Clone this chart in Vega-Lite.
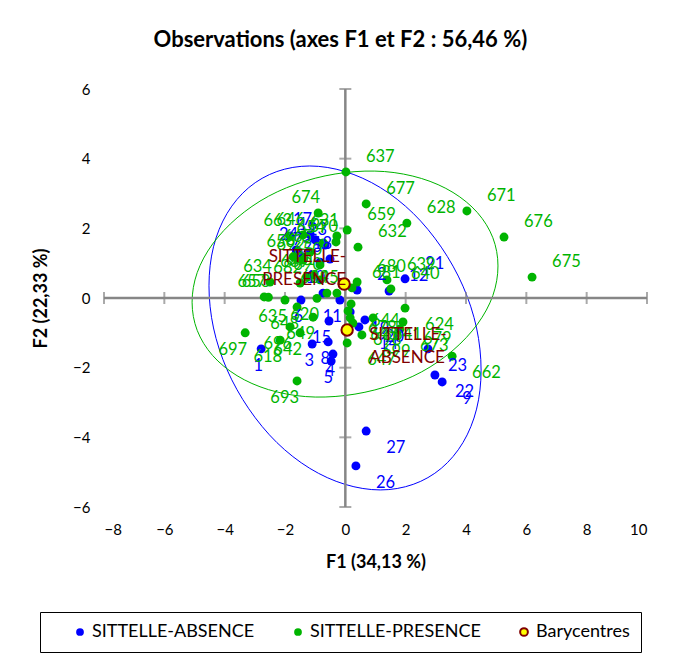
{
"$schema":"https://vega.github.io/schema/vega-lite/v6.json",
"width":543,"height":418,
"autosize":{"type":"none"},
"padding":{"left":104,"top":89,"right":33,"bottom":157},
"background":"white",
"config":{"view":{"stroke":null},"font":"Lato",
 "axis":{"labelFont":"Lato","titleFont":"Lato","labelColor":"black","titleColor":"black","grid":false,"domain":false,"ticks":false,"labelFontSize":15,"titleFontSize":18,"titleFontWeight":"bold"}},
"title":{"text":"Observations (axes F1 et F2 : 56,46 %)","font":"Lato","fontSize":22,"fontWeight":"bold","color":"black","anchor":"middle","frame":"bounds","offset":30},
"datasets":{
 "ell":[
  {"g":"A","i":0,"x":4.50,"y":-2.07},{"g":"A","i":1,"x":4.35,"y":-0.86},{"g":"A","i":2,"x":3.90,"y":0.34},{"g":"A","i":3,"x":3.18,"y":1.46},{"g":"A","i":4,"x":2.25,"y":2.43},{"g":"A","i":5,"x":1.16,"y":3.17},{"g":"A","i":6,"x":-0.01,"y":3.63},{"g":"A","i":7,"x":-1.18,"y":3.79},{"g":"A","i":8,"x":-2.27,"y":3.63},{"g":"A","i":9,"x":-3.20,"y":3.17},{"g":"A","i":10,"x":-3.92,"y":2.43},{"g":"A","i":11,"x":-4.37,"y":1.47},{"g":"A","i":12,"x":-4.52,"y":0.35},{"g":"A","i":13,"x":-4.37,"y":-0.86},{"g":"A","i":14,"x":-3.92,"y":-2.06},{"g":"A","i":15,"x":-3.20,"y":-3.18},{"g":"A","i":16,"x":-2.27,"y":-4.15},{"g":"A","i":17,"x":-1.18,"y":-4.89},{"g":"A","i":18,"x":-0.01,"y":-5.35},{"g":"A","i":19,"x":1.16,"y":-5.51},{"g":"A","i":20,"x":2.25,"y":-5.35},{"g":"A","i":21,"x":3.18,"y":-4.89},{"g":"A","i":22,"x":3.90,"y":-4.15},{"g":"A","i":23,"x":4.35,"y":-3.19},
  {"g":"P","i":0,"x":5.06,"y":0.92},{"g":"P","i":1,"x":4.89,"y":1.73},{"g":"P","i":2,"x":4.38,"y":2.45},{"g":"P","i":3,"x":3.57,"y":3.03},{"g":"P","i":4,"x":2.53,"y":3.43},{"g":"P","i":5,"x":1.30,"y":3.63},{"g":"P","i":6,"x":-0.01,"y":3.60},{"g":"P","i":7,"x":-1.32,"y":3.36},{"g":"P","i":8,"x":-2.55,"y":2.92},{"g":"P","i":9,"x":-3.59,"y":2.30},{"g":"P","i":10,"x":-4.40,"y":1.55},{"g":"P","i":11,"x":-4.91,"y":0.73},{"g":"P","i":12,"x":-5.08,"y":-0.12},{"g":"P","i":13,"x":-4.91,"y":-0.93},{"g":"P","i":14,"x":-4.40,"y":-1.65},{"g":"P","i":15,"x":-3.59,"y":-2.23},{"g":"P","i":16,"x":-2.55,"y":-2.63},{"g":"P","i":17,"x":-1.32,"y":-2.83},{"g":"P","i":18,"x":-0.01,"y":-2.80},{"g":"P","i":19,"x":1.30,"y":-2.56},{"g":"P","i":20,"x":2.53,"y":-2.12},{"g":"P","i":21,"x":3.57,"y":-1.50},{"g":"P","i":22,"x":4.38,"y":-0.75},{"g":"P","i":23,"x":4.89,"y":0.07}
 ],
 "xt":[{"x":-8},{"x":-6},{"x":-4},{"x":-2},{"x":2},{"x":4},{"x":6},{"x":8},{"x":10}],
 "yt":[{"y":-6},{"y":-4},{"y":-2},{"y":2},{"y":4},{"y":6}],
 "pts":[
  {"g":"SITTELLE-ABSENCE","n":"1","x":-2.79,"y":-1.46},
  {"g":"SITTELLE-ABSENCE","n":"2","x":0.39,"y":0.23},
  {"g":"SITTELLE-ABSENCE","n":"3","x":-1.10,"y":-1.32},
  {"g":"SITTELLE-ABSENCE","n":"4","x":-0.41,"y":-1.61},
  {"g":"SITTELLE-ABSENCE","n":"5","x":-0.47,"y":-1.81},
  {"g":"SITTELLE-ABSENCE","n":"6","x":-1.47,"y":-0.06},
  {"g":"SITTELLE-ABSENCE","n":"7","x":-1.50,"y":1.23},
  {"g":"SITTELLE-ABSENCE","n":"8","x":-0.57,"y":-1.26},
  {"g":"SITTELLE-ABSENCE","n":"9","x":3.21,"y":-2.41},
  {"g":"SITTELLE-ABSENCE","n":"10","x":-0.74,"y":0.14},
  {"g":"SITTELLE-ABSENCE","n":"11","x":-0.18,"y":-0.06},
  {"g":"SITTELLE-ABSENCE","n":"12","x":1.45,"y":0.20},
  {"g":"SITTELLE-ABSENCE","n":"13","x":-0.67,"y":1.52},
  {"g":"SITTELLE-ABSENCE","n":"14","x":0.45,"y":-0.83},
  {"g":"SITTELLE-ABSENCE","n":"15","x":-0.54,"y":-0.66},
  {"g":"SITTELLE-ABSENCE","n":"16","x":-1.00,"y":1.67},
  {"g":"SITTELLE-ABSENCE","n":"17","x":-1.17,"y":1.81},
  {"g":"SITTELLE-ABSENCE","n":"18","x":-0.51,"y":1.12},
  {"g":"SITTELLE-ABSENCE","n":"19","x":0.16,"y":-0.40},
  {"g":"SITTELLE-ABSENCE","n":"20","x":0.65,"y":-0.63},
  {"g":"SITTELLE-ABSENCE","n":"21","x":1.98,"y":0.55},
  {"g":"SITTELLE-ABSENCE","n":"22","x":2.97,"y":-2.21},
  {"g":"SITTELLE-ABSENCE","n":"23","x":2.74,"y":-1.46},
  {"g":"SITTELLE-ABSENCE","n":"24","x":-1.63,"y":1.38},
  {"g":"SITTELLE-ABSENCE","n":"25","x":-0.84,"y":1.03},
  {"g":"SITTELLE-ABSENCE","n":"26","x":0.35,"y":-4.82},
  {"g":"SITTELLE-ABSENCE","n":"27","x":0.69,"y":-3.82},
  {"g":"SITTELLE-PRESENCE","n":"637","x":0.02,"y":3.62},
  {"g":"SITTELLE-PRESENCE","n":"677","x":0.69,"y":2.70},
  {"g":"SITTELLE-PRESENCE","n":"659","x":0.06,"y":1.95},
  {"g":"SITTELLE-PRESENCE","n":"628","x":2.04,"y":2.15},
  {"g":"SITTELLE-PRESENCE","n":"632","x":0.42,"y":1.46},
  {"g":"SITTELLE-PRESENCE","n":"671","x":4.03,"y":2.50},
  {"g":"SITTELLE-PRESENCE","n":"676","x":5.26,"y":1.75},
  {"g":"SITTELLE-PRESENCE","n":"675","x":6.19,"y":0.60},
  {"g":"SITTELLE-PRESENCE","n":"674","x":-0.90,"y":2.44},
  {"g":"SITTELLE-PRESENCE","n":"663","x":-1.83,"y":1.78},
  {"g":"SITTELLE-PRESENCE","n":"631","x":-0.28,"y":1.78},
  {"g":"SITTELLE-PRESENCE","n":"670","x":-0.31,"y":1.61},
  {"g":"SITTELLE-PRESENCE","n":"656","x":-1.73,"y":1.18},
  {"g":"SITTELLE-PRESENCE","n":"665","x":-1.17,"y":1.32},
  {"g":"SITTELLE-PRESENCE","n":"634","x":-2.50,"y":0.46},
  {"g":"SITTELLE-PRESENCE","n":"657","x":-2.69,"y":0.03},
  {"g":"SITTELLE-PRESENCE","n":"653","x":-2.55,"y":0.02},
  {"g":"SITTELLE-PRESENCE","n":"682","x":-1.50,"y":0.43},
  {"g":"SITTELLE-PRESENCE","n":"689","x":-1.27,"y":0.60},
  {"g":"SITTELLE-PRESENCE","n":"681","x":0.22,"y":0.29},
  {"g":"SITTELLE-PRESENCE","n":"680","x":0.39,"y":0.46},
  {"g":"SITTELLE-PRESENCE","n":"639","x":1.38,"y":0.52},
  {"g":"SITTELLE-PRESENCE","n":"640","x":1.51,"y":0.26},
  {"g":"SITTELLE-PRESENCE","n":"635","x":-2.00,"y":-0.06},
  {"g":"SITTELLE-PRESENCE","n":"620","x":-0.94,"y":-0.01},
  {"g":"SITTELLE-PRESENCE","n":"648","x":-1.60,"y":-0.26},
  {"g":"SITTELLE-PRESENCE","n":"649","x":-1.07,"y":-0.55},
  {"g":"SITTELLE-PRESENCE","n":"642","x":-1.50,"y":-1.00},
  {"g":"SITTELLE-PRESENCE","n":"697","x":-3.32,"y":-1.00},
  {"g":"SITTELLE-PRESENCE","n":"618","x":-2.16,"y":-1.21},
  {"g":"SITTELLE-PRESENCE","n":"693","x":-1.60,"y":-2.38},
  {"g":"SITTELLE-PRESENCE","n":"662","x":3.54,"y":-1.67},
  {"g":"SITTELLE-PRESENCE","n":"624","x":1.98,"y":-0.29},
  {"g":"SITTELLE-PRESENCE","n":"679","x":1.91,"y":-0.69},
  {"g":"SITTELLE-PRESENCE","n":"673","x":1.81,"y":-0.89},
  {"g":"SITTELLE-PRESENCE","n":"644","x":0.19,"y":-0.17},
  {"g":"SITTELLE-PRESENCE","n":"678","x":0.09,"y":-0.37},
  {"g":"SITTELLE-PRESENCE","n":"645","x":0.16,"y":-0.57},
  {"g":"SITTELLE-PRESENCE","n":"647","x":0.06,"y":-1.29},
  {"g":"SITTELLE-PRESENCE","n":"690","x":-0.84,"y":0.52},
  {"g":"SITTELLE-PRESENCE","n":"691","x":-1.07,"y":0.66},
  {"g":"SITTELLE-PRESENCE","n":"692","x":-1.40,"y":1.09},
  {"g":"SITTELLE-PRESENCE","n":"694","x":-0.61,"y":0.14},
  {"g":"SITTELLE-PRESENCE","n":"695","x":-0.28,"y":0.14},
  {"g":"SITTELLE-PRESENCE","n":"696","x":-1.83,"y":-0.83},
  {"g":"SITTELLE-PRESENCE","n":"698","x":0.25,"y":-0.72},
  {"g":"SITTELLE-PRESENCE","n":"699","x":0.55,"y":-1.06},
  {"g":"SITTELLE-PRESENCE","n":"641","x":0.92,"y":-0.57},
  {"g":"SITTELLE-PRESENCE","n":"646","x":-1.40,"y":1.81},
  {"g":"SITTELLE-PRESENCE","n":"650","x":-0.84,"y":0.95},
  {"g":"SITTELLE-PRESENCE","n":"654","x":-0.73,"y":1.58}
 ],
 "bary":[
  {"g":"Barycentres","n":"SITTELLE-\nPRESENCE","x":-0.04,"y":0.40},
  {"g":"Barycentres","n":"SITTELLE-\nABSENCE","x":0.06,"y":-0.92}
 ]
},
"layer":[
 {"data":{"name":"ell"},"transform":[{"filter":"datum.g === 'A'"}],
  "mark":{"type":"line","interpolate":"cardinal-closed","stroke":"#0000ff","strokeWidth":1},
  "encoding":{
   "x":{"field":"x","type":"quantitative","scale":{"domain":[-8,10],"nice":false,"zero":false},
        "axis":{"values":[-8,-6,-4,-2,0,2,4,6,8,10],"title":"F1 (34,13 %)","labelPadding":15,"titlePadding":16}},
   "y":{"field":"y","type":"quantitative","scale":{"domain":[-6,6],"nice":false,"zero":false},
        "axis":{"values":[-6,-4,-2,0,2,4,6],"title":"F2 (22,33 %)","labelPadding":14,"titlePadding":22}},
   "order":{"field":"i","type":"quantitative"}}},
 {"data":{"name":"ell"},"transform":[{"filter":"datum.g === 'P'"}],
  "mark":{"type":"line","interpolate":"cardinal-closed","stroke":"#00b400","strokeWidth":1},
  "encoding":{"x":{"field":"x","type":"quantitative"},"y":{"field":"y","type":"quantitative"},"order":{"field":"i","type":"quantitative"}}},
 {"data":{"values":[{}]},"mark":{"type":"rule","color":"#868686","strokeWidth":2.5},"encoding":{"x":{"datum":0,"type":"quantitative"}}},
 {"data":{"values":[{}]},"mark":{"type":"rule","color":"#868686","strokeWidth":2.5},"encoding":{"y":{"datum":0,"type":"quantitative"}}},
 {"data":{"name":"xt"},"mark":{"type":"tick","orient":"vertical","size":12,"thickness":2,"color":"#868686"},
  "encoding":{"x":{"field":"x","type":"quantitative"},"y":{"datum":0,"type":"quantitative"}}},
 {"data":{"name":"yt"},"mark":{"type":"tick","orient":"horizontal","size":12,"thickness":2,"color":"#868686"},
  "encoding":{"y":{"field":"y","type":"quantitative"},"x":{"datum":0,"type":"quantitative"}}},
 {"data":{"name":"pts"},
  "mark":{"type":"circle","size":80,"opacity":1,"strokeWidth":2},
  "encoding":{"x":{"field":"x","type":"quantitative"},"y":{"field":"y","type":"quantitative"},
   "fill":{"field":"g","type":"nominal",
     "scale":{"domain":["SITTELLE-ABSENCE","SITTELLE-PRESENCE","Barycentres"],"range":["#0000ff","#00b400","#ffff00"]},
     "legend":{"orient":"none","legendX":-64,"legendY":523,"direction":"horizontal","title":null,
       "labelFont":"Lato","labelFontSize":18,"labelColor":"black","labelLimit":400,"symbolType":"circle","symbolSize":60,"symbolStrokeWidth":2,"padding":11,
       "symbolOffset":20,"labelOffset":3,"columnPadding":14,"strokeColor":"black"}},
   "stroke":{"field":"g","type":"nominal",
     "scale":{"domain":["SITTELLE-ABSENCE","SITTELLE-PRESENCE","Barycentres"],"range":["transparent","transparent","#800000"]}}}},
 {"data":{"name":"pts"},"transform":[{"filter":"datum.g === 'SITTELLE-ABSENCE'"}],
  "mark":{"type":"text","font":"Lato","fontSize":16.5,"baseline":"middle","fill":"#0000ff",
    "align":{"expr":"datum.x < 0 ? 'right' : 'left'"},"dx":{"expr":"datum.x < 0 ? 2 : 20"},"dy":{"expr":"datum.y < 0 ? 17 : -15"}},
  "encoding":{"x":{"field":"x","type":"quantitative"},"y":{"field":"y","type":"quantitative"},"text":{"field":"n"}}},
 {"data":{"name":"pts"},"transform":[{"filter":"datum.g === 'SITTELLE-PRESENCE'"}],
  "mark":{"type":"text","font":"Lato","fontSize":16.5,"baseline":"middle","fill":"#00b400",
    "align":{"expr":"datum.x < 0 ? 'right' : 'left'"},"dx":{"expr":"datum.x < 0 ? 2 : 20"},"dy":{"expr":"datum.y < 0 ? 17 : -15"}},
  "encoding":{"x":{"field":"x","type":"quantitative"},"y":{"field":"y","type":"quantitative"},"text":{"field":"n"}}},
 {"data":{"name":"bary"},
  "mark":{"type":"circle","size":130,"strokeWidth":2,"opacity":1},
  "encoding":{"x":{"field":"x","type":"quantitative"},"y":{"field":"y","type":"quantitative"},
   "fill":{"field":"g","type":"nominal"},"stroke":{"field":"g","type":"nominal"}}},
 {"data":{"name":"bary"},
  "mark":{"type":"text","font":"Lato","fontSize":17,"baseline":"middle","fill":"#800000","lineBreak":"\n","lineHeight":23,
    "align":{"expr":"datum.x < 0 ? 'right' : 'left'"},"dx":{"expr":"datum.x < 0 ? 2 : 22"},"dy":{"expr":"datum.y < 0 ? 5 : -27"}},
  "encoding":{"x":{"field":"x","type":"quantitative"},"y":{"field":"y","type":"quantitative"},"text":{"field":"n"}}}
]
}
